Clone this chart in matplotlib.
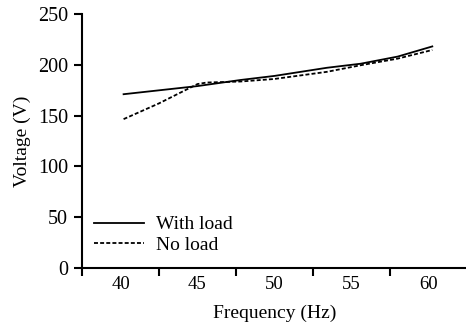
import numpy as np
import matplotlib.pyplot as plt
from matplotlib.ticker import FixedLocator, NullFormatter

plt.rcParams["font.family"] = ["Liberation Serif", "DejaVu Serif"]

# data
with_load_f = [40.2, 45.0, 47.8, 50.0, 53.4, 55.6, 58.0, 60.25]
with_load_v = [171, 179, 185, 189, 197, 201, 208, 218]

no_load_f = [40.2, 42.5, 45.0, 45.6, 47.8, 50.0, 53.4, 55.6, 58.0, 60.25]
no_load_v = [146.5, 162, 181, 182.5, 183.5, 186, 193, 199.5, 206, 214.5]

freq_labels = [40, 45, 50, 55, 60]
volt_ticks = [0, 50, 100, 150, 200, 250]

fig = plt.figure(figsize=(4.66, 3.23), dpi=100)
ax = fig.add_axes([0.176, 0.170, 0.826, 0.787])

ax.plot(with_load_f, with_load_v, color="black", lw=1.3, label="With load")
ax.plot(no_load_f, no_load_v, color="black", lw=1.3, ls=(0, (2.2, 1.2)), label="No load")

ax.set_xlim(37.5, 62.5)
ax.set_ylim(0, 250)

# ticks sit at the category edges, labels in the middle
ax.xaxis.set_major_locator(FixedLocator([37.5, 42.5, 47.5, 52.5, 57.5]))
ax.xaxis.set_major_formatter(NullFormatter())
ax.xaxis.set_minor_locator(FixedLocator(freq_labels))
ax.set_xticklabels([str(f) for f in freq_labels], minor=True)
ax.tick_params(axis="x", which="minor", length=0, pad=6, labelsize=13.5)
ax.tick_params(axis="x", which="major", length=6, width=1.5, direction="out")

ax.set_yticks(volt_ticks)
ax.tick_params(axis="y", length=6, width=1.5, direction="out", pad=4, labelsize=14.5)

for s in ["top", "right"]:
    ax.spines[s].set_visible(False)
for s in ["left", "bottom"]:
    ax.spines[s].set_linewidth(1.5)

ax.set_xlabel("Frequency (Hz)", fontsize=14, labelpad=8)
ax.set_ylabel("Voltage (V)", fontsize=14, labelpad=5)

ax.legend(loc="lower left", bbox_to_anchor=(0.0, 0.01), frameon=False,
          fontsize=14, handlelength=2.6, handletextpad=0.6, labelspacing=0.15,
          borderaxespad=0.2)

plt.savefig("out.png", dpi=100)
